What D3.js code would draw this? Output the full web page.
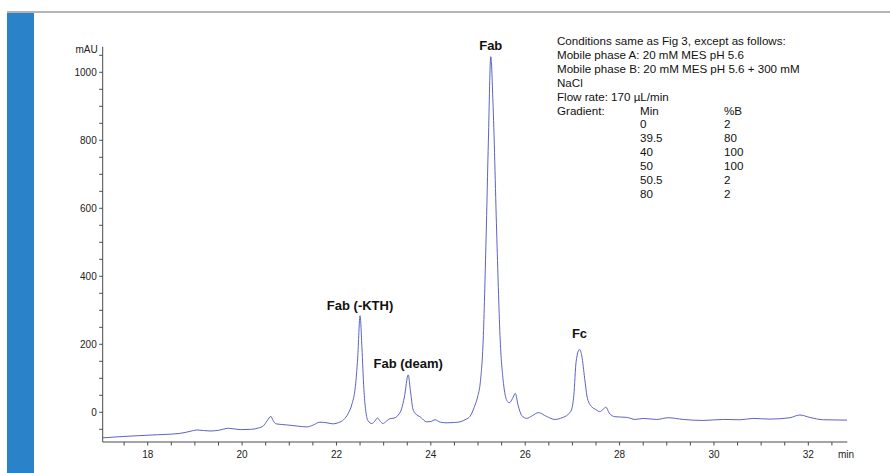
<!DOCTYPE html>
<html>
<head>
<meta charset="utf-8">
<script src="https://cdn.jsdelivr.net/npm/d3@7"></script>
<style>
  body { margin: 0; background: #fff; }
  svg { display: block; font-family: "Liberation Sans", Arial, sans-serif; }
</style>
</head>
<body>
<div id="chart"></div>
<script>
// retention time (min) and absorbance (mAU)
const times = [17.05, 17.5, 18.05, 18.68, 18.9, 19.04, 19.32, 19.5, 19.71, 19.96, 20.2, 20.35, 20.45, 20.53, 20.61, 20.66, 20.72, 20.94, 21.2, 21.37, 21.5, 21.65, 21.8, 21.93, 22.05, 22.15, 22.25, 22.33, 22.4, 22.45, 22.5, 22.54, 22.58, 22.62, 22.67, 22.75, 22.8, 22.87, 22.93, 22.99, 23.05, 23.13, 23.22, 23.31, 23.38, 23.44, 23.52, 23.57, 23.62, 23.67, 23.78, 23.91, 24.0, 24.09, 24.2, 24.34, 24.5, 24.62, 24.75, 24.83, 24.92, 24.99, 25.05, 25.11, 25.17, 25.22, 25.27, 25.32, 25.4, 25.47, 25.54, 25.61, 25.66, 25.73, 25.79, 25.85, 25.93, 26.03, 26.15, 26.28, 26.45, 26.63, 26.78, 26.91, 26.98, 27.03, 27.08, 27.15, 27.2, 27.26, 27.32, 27.41, 27.5, 27.58, 27.66, 27.71, 27.78, 27.9, 28.15, 28.33, 28.5, 28.79, 29.03, 29.35, 29.77, 30.2, 30.55, 30.83, 31.19, 31.61, 31.82, 32.03, 32.32, 32.82];
const mAU = [-75, -71, -67, -62, -56, -52, -55, -53, -47, -51, -50, -46, -40, -25, -12, -25, -34, -37, -41, -43, -38, -29, -31, -34, -30, -22, -3, 25, 75, 160, 284, 190, 70, 5, -25, -33, -28, -17, -27, -33, -27, -19, -17, -8, 10, 45, 110, 60, 10, -3, -14, -28, -27, -22, -29, -31, -30, -28, -20, -12, 15, 45, 90, 213, 507, 801, 1046, 899, 507, 213, 85, 35, 28, 40, 56, 20, -10, -18, -10, -1, -12, -21, -16, -6, 7, 50, 150, 185, 165, 100, 40, 16, 8, 2, 10, 15, -2, -13, -15, -21, -18, -21, -16, -21, -24, -21, -22, -18, -20, -16, -8, -15, -22, -23];

const peakNames = ["Fab (-KTH)", "Fab (deam)", "Fab", "Fc"];
const peakTimes = [22.5, 23.52, 25.27, 27.15];
const peakLabelValues = [300, 130, 1065, 220];

const xTickValues = [18, 20, 22, 24, 26, 28, 30, 32];
const yTickValues = [0, 200, 400, 600, 800, 1000];

const conditionLines = [
  "Conditions same as Fig 3, except as follows:",
  "Mobile phase A: 20 mM MES pH 5.6",
  "Mobile phase B: 20 mM MES pH 5.6 + 300 mM",
  "NaCl",
  "Flow rate: 170 \u00b5L/min",
  "Gradient:"
];
const gradientMin = ["Min", "0", "39.5", "40", "50", "50.5", "80"];
const gradientB = ["%B", "2", "80", "100", "100", "2", "2"];

const W = 890, H = 473;
const svg = d3.select("#chart").append("svg").attr("width", W).attr("height", H);

// page decoration: blue side bar and grey top rule
svg.append("rect").attr("x", 7).attr("y", 12).attr("width", 27).attr("height", H - 12).attr("fill", "#2a82c8");
svg.append("rect").attr("x", 7).attr("y", 11).attr("width", W - 7).attr("height", 2).attr("fill", "#b4b4b4");

const x = d3.scaleLinear().domain([17.046, 32.826]).range([102.7, 847.3]);
const y = d3.scaleLinear().domain([0, 1000]).range([412.3, 72.3]);
const yTop = 46.7, yBottom = 442;

const axisColor = "#4a4a4a";

// x axis
const gx = svg.append("g").attr("transform", `translate(0,${yBottom})`);
gx.append("line").attr("x1", x.range()[0]).attr("x2", x.range()[1]).attr("stroke", axisColor);
gx.selectAll(".minor").data(d3.range(17.5, 32.6, 0.5)).join("line")
  .attr("x1", d => x(d)).attr("x2", d => x(d)).attr("y1", 0).attr("y2", 3.5)
  .attr("stroke", axisColor);
gx.selectAll("text").data(xTickValues).join("text")
  .attr("x", d => x(d)).attr("y", 16).attr("text-anchor", "middle")
  .attr("font-size", 10).attr("fill", "#222").text(d => d);
gx.append("text").attr("x", 838).attr("y", 16).attr("font-size", 10).attr("fill", "#222").text("min");

// y axis
const gy = svg.append("g").attr("transform", `translate(${x.range()[0]},0)`);
gy.append("line").attr("y1", yTop).attr("y2", yBottom).attr("stroke", axisColor);
gy.selectAll(".minor").data(d3.range(-50, 1051, 50)).join("line")
  .attr("y1", d => y(d)).attr("y2", d => y(d)).attr("x1", 0).attr("x2", -3.5)
  .attr("stroke", axisColor);
gy.selectAll("text").data(yTickValues).join("text")
  .attr("x", -6).attr("y", d => y(d)).attr("dy", "0.35em").attr("text-anchor", "end")
  .attr("font-size", 10).attr("fill", "#222").text(d => d);
gy.append("text").attr("x", -5).attr("y", 53).attr("text-anchor", "end")
  .attr("font-size", 10).attr("fill", "#222").text("mAU");

// trace
const line = d3.line().x(d => x(d[0])).y(d => y(d[1])).curve(d3.curveMonotoneX);
svg.append("path").datum(d3.zip(times, mAU))
  .attr("d", line).attr("fill", "none").attr("stroke", "#5a64c4").attr("stroke-width", 1);

// peak labels
svg.selectAll(".peak").data(d3.zip(peakNames, peakTimes, peakLabelValues)).join("text")
  .attr("x", d => x(d[1])).attr("y", d => y(d[2]))
  .attr("text-anchor", "middle").attr("font-size", 13).attr("font-weight", "bold")
  .attr("fill", "#111").text(d => d[0]);

// conditions block
const tx = 557, ty = 45, lh = 13.9;
const cond = svg.append("g").attr("font-size", 11.6).attr("fill", "#111");
cond.selectAll(".c").data(conditionLines).join("text")
  .attr("x", tx).attr("y", (d, i) => ty + i * lh).text(d => d);
cond.selectAll(".m").data(gradientMin).join("text")
  .attr("x", 640).attr("y", (d, i) => ty + (i + 5) * lh).text(d => d);
cond.selectAll(".b").data(gradientB).join("text")
  .attr("x", 724).attr("y", (d, i) => ty + (i + 5) * lh).text(d => d);
</script>
</body>
</html>
